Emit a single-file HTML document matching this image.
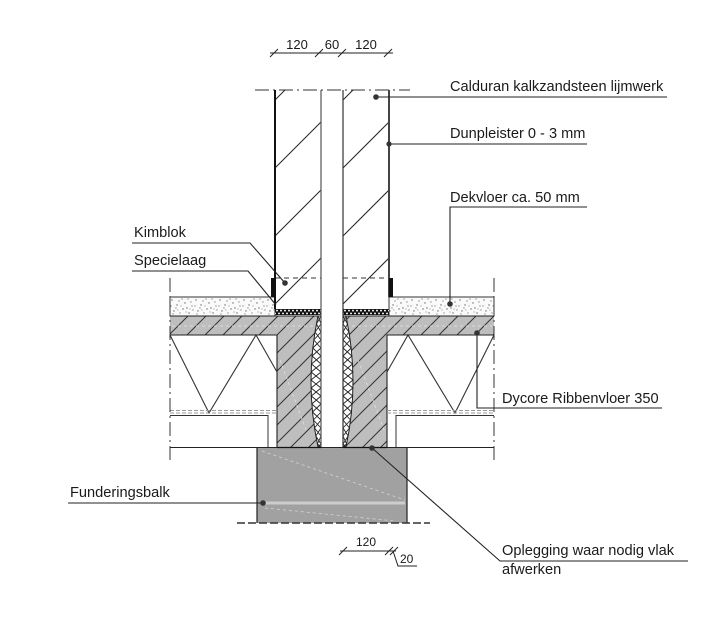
<!DOCTYPE html>
<html>
<head>
<meta charset="utf-8">
<style>
  html,body{margin:0;padding:0;background:#fff;}
  svg{display:block;}
  text{font-family:"Liberation Sans", Arial, sans-serif; fill:#1a1a1a;}
</style>
</head>
<body>
<svg width="725" height="633" viewBox="0 0 725 633" xmlns="http://www.w3.org/2000/svg">
  <defs>
    <pattern id="hatch" patternUnits="userSpaceOnUse" width="18" height="18">
      <rect width="18" height="18" fill="#bebebe"/>
      <path d="M-1,19 L19,-1 M-5,5 L5,-5 M13,23 L23,13" stroke="#333" stroke-width="1"/>
    </pattern>
    <pattern id="speck" patternUnits="userSpaceOnUse" x="170" y="297" width="24" height="19">
      <rect width="24" height="19" fill="#fafafa"/>
      <g fill="#666">
        <circle cx="2" cy="3" r="0.7"/><circle cx="7" cy="8" r="0.7"/><circle cx="12" cy="2" r="0.6"/>
        <circle cx="17" cy="11" r="0.7"/><circle cx="21" cy="5" r="0.6"/><circle cx="4" cy="14" r="0.7"/>
        <circle cx="10" cy="16" r="0.6"/><circle cx="15" cy="6" r="0.7"/><circle cx="19" cy="16" r="0.7"/>
        <circle cx="6" cy="11" r="0.6"/><circle cx="23" cy="13" r="0.6"/><circle cx="13" cy="12" r="0.7"/>
        <circle cx="9" cy="4" r="0.6"/><circle cx="1" cy="9" r="0.6"/><circle cx="18" cy="2" r="0.6"/>
        <circle cx="3" cy="17" r="0.6"/><circle cx="22" cy="9" r="0.6"/><circle cx="11" cy="9" r="0.5"/>
        <circle cx="16" cy="15" r="0.5"/><circle cx="8" cy="13" r="0.5"/><circle cx="20" cy="12" r="0.5"/>
      </g>
    </pattern>
    <pattern id="spec" patternUnits="userSpaceOnUse" x="275" y="309" width="4" height="6">
      <rect width="4" height="6" fill="#111"/>
      <circle cx="2" cy="1.6" r="0.95" fill="#fff"/>
      <circle cx="0" cy="4.4" r="0.95" fill="#fff"/>
      <circle cx="4" cy="4.4" r="0.95" fill="#fff"/>
    </pattern>
  </defs>

  <!-- Top dimension -->
  <g stroke="#222" stroke-width="1">
    <line x1="270" y1="53" x2="393" y2="53"/>
    <line x1="270" y1="57" x2="278" y2="49"/>
    <line x1="315" y1="57" x2="323" y2="49"/>
    <line x1="338" y1="57" x2="346" y2="49"/>
    <line x1="384" y1="57" x2="392" y2="49"/>
  </g>
  <text x="297" y="49" font-size="13" text-anchor="middle">120</text>
  <text x="332" y="49" font-size="13" text-anchor="middle">60</text>
  <text x="366" y="49" font-size="13" text-anchor="middle">120</text>

  <!-- top dash-dot cut line -->
  <line x1="255" y1="90" x2="410" y2="90" stroke="#333" stroke-width="1" stroke-dasharray="14 4 2 4"/>

  <!-- Wall hatch -->
  <g stroke="#222" stroke-width="1">
    <line x1="275" y1="100" x2="285" y2="90"/>
    <line x1="275" y1="168" x2="321" y2="122"/>
    <line x1="275" y1="236" x2="321" y2="190"/>
    <line x1="275" y1="304" x2="321" y2="258"/>
    <line x1="343" y1="100" x2="353" y2="90"/>
    <line x1="343" y1="168" x2="389" y2="122"/>
    <line x1="343" y1="236" x2="389" y2="190"/>
    <line x1="343" y1="304" x2="389" y2="258"/>
  </g>

  <!-- dashed line in walls -->
  <line x1="275" y1="278" x2="321" y2="278" stroke="#333" stroke-width="1" stroke-dasharray="5 4"/>
  <line x1="343" y1="278" x2="389" y2="278" stroke="#333" stroke-width="1" stroke-dasharray="5 4"/>

  <!-- Screed -->
  <rect x="170" y="297" width="105" height="19" fill="url(#speck)" stroke="#333" stroke-width="1"/>
  <rect x="389" y="297" width="105" height="19" fill="url(#speck)" stroke="#333" stroke-width="1"/>

  <!-- Specielaag -->
  <rect x="275" y="309" width="46" height="6" fill="url(#spec)"/>
  <rect x="343" y="309" width="46" height="6" fill="url(#spec)"/>

  <!-- Concrete slab + columns (hatched gray) -->
  <path d="M170,316 L321,316 L321,447 L277,447 L277,335 L170,335 Z" fill="url(#hatch)"/>
  <path d="M343,316 L494,316 L494,335 L387,335 L387,447 L343,447 Z" fill="url(#hatch)"/>
  <g stroke="#e6e6e6" stroke-width="0.7" stroke-dasharray="3 3" fill="none">
    <line x1="172" y1="326" x2="318" y2="326"/>
    <line x1="346" y1="326" x2="492" y2="326"/>
    <line x1="280" y1="360" x2="306" y2="430"/>
    <line x1="358" y1="360" x2="384" y2="430"/>
  </g>

  <!-- insulation lenses -->
  <path d="M318,316 Q304,381.5 318,447 L321,447 L321,316 Z" fill="#fff" stroke="#222" stroke-width="1"/>
  <path d="M346,316 Q360,381.5 346,447 L343,447 L343,316 Z" fill="#fff" stroke="#222" stroke-width="1"/>
  <g stroke="#222" stroke-width="0.9" fill="none" stroke-linejoin="round">
    <polyline points="318,316 321,324 315,332 321,340 312.8,348 321,356 311.5,364 321,372 311,380 321,388 311.3,396 321,404 312.5,412 321,420 314.5,428 321,436 317.4,444 321,447"/>
    <polyline points="321,316 316.4,324 321,332 313.8,340 321,348 312.1,356 321,364 311.1,372 321,380 311.1,388 321,396 311.8,404 321,412 313.4,420 321,428 315.8,436 321,444 318,447"/>
    <polyline points="346,316 343,324 349,332 343,340 351.2,348 343,356 352.5,364 343,372 353,380 343,388 352.7,396 343,404 351.5,412 343,420 349.5,428 343,436 346.6,444 343,447"/>
    <polyline points="343,316 347.6,324 343,332 350.2,340 343,348 351.9,356 343,364 352.9,372 343,380 352.9,388 343,396 352.2,404 343,412 350.6,420 343,428 348.2,436 343,444 346,447"/>
  </g>

  <!-- slab outlines -->
  <g stroke="#222" stroke-width="1.1" fill="none">
    <line x1="170" y1="316" x2="321" y2="316"/>
    <line x1="343" y1="316" x2="494" y2="316"/>
    <polyline points="170,335 277,335 277,447"/>
    <polyline points="494,335 387,335 387,447"/>
  </g>

  <!-- hollow-core V lines -->
  <g stroke="#333" stroke-width="1.1" fill="none">
    <polyline points="170,335 209,413 256,335 277,372"/>
    <polyline points="387,372 408,335 455,413 494,335"/>
  </g>

  <!-- dashed double line -->
  <g stroke="#9a9a9a" stroke-width="0.9" stroke-dasharray="4 2">
    <line x1="170" y1="410.5" x2="277" y2="410.5"/>
    <line x1="170" y1="413" x2="277" y2="413"/>
    <line x1="387" y1="410.5" x2="494" y2="410.5"/>
    <line x1="387" y1="413" x2="494" y2="413"/>
  </g>

  <!-- L lines -->
  <g stroke="#333" stroke-width="1" fill="none">
    <polyline points="170,415.5 268,415.5 268,447"/>
    <polyline points="494,415.5 396,415.5 396,447"/>
  </g>

  <!-- Foundation -->
  <rect x="257" y="447" width="150" height="76" fill="#a1a1a1"/>
  <line x1="262" y1="503" x2="405" y2="503" stroke="#cdcdcd" stroke-width="3"/>
  <line x1="262" y1="451" x2="405" y2="500" stroke="#d2d2d2" stroke-width="0.8" stroke-dasharray="3 3"/>
  <line x1="265" y1="508" x2="395" y2="521" stroke="#d2d2d2" stroke-width="0.8" stroke-dasharray="3 3"/>
  <g stroke="#222" stroke-width="1.2">
    <line x1="257" y1="447" x2="257" y2="523"/>
    <line x1="407" y1="447" x2="407" y2="523"/>
  </g>
  <line x1="237" y1="523" x2="430" y2="523" stroke="#333" stroke-width="1.5" stroke-dasharray="8 3"/>

  <!-- bottom horizontal line -->
  <line x1="170" y1="447.5" x2="494" y2="447.5" stroke="#222" stroke-width="1.1"/>
  <line x1="277" y1="447.5" x2="321" y2="447.5" stroke="#111" stroke-width="1.3"/>
  <line x1="343" y1="447.5" x2="387" y2="447.5" stroke="#111" stroke-width="1.3"/>

  <!-- side dash-dot boundaries -->
  <g stroke="#333" stroke-width="1" stroke-dasharray="14 4 2 4">
    <line x1="170" y1="278" x2="170" y2="462"/>
    <line x1="494" y1="278" x2="494" y2="462"/>
  </g>

  <!-- Wall vertical lines -->
  <line x1="275" y1="90" x2="275" y2="309" stroke="#111" stroke-width="2"/>
  <line x1="321" y1="90" x2="321" y2="447" stroke="#555" stroke-width="1.2"/>
  <line x1="343" y1="90" x2="343" y2="447" stroke="#333" stroke-width="1.2"/>
  <line x1="389" y1="90" x2="389" y2="297" stroke="#444" stroke-width="2"/>

  <!-- Kimbloks -->
  <rect x="271" y="278" width="4" height="19" fill="#111"/>
  <rect x="389" y="278" width="4" height="19" fill="#111"/>

  <!-- Leaders -->
  <g stroke="#222" stroke-width="1.1" fill="none">
    <line x1="376" y1="97" x2="667" y2="97"/>
    <line x1="389" y1="144" x2="587" y2="144"/>
    <polyline points="450,304 450,207 587,207"/>
    <polyline points="477,333 477,408 662,408"/>
    <polyline points="132,243 250,243 285,283"/>
    <polyline points="132,271 248,271 276,305"/>
    <line x1="68" y1="503" x2="263" y2="503"/>
    <polyline points="372,448 500,561 688,561"/>
  </g>
  <g fill="#333">
    <circle cx="376" cy="97" r="2.8"/>
    <circle cx="389" cy="144" r="2.6"/>
    <circle cx="450" cy="304" r="2.8"/>
    <circle cx="477" cy="333" r="2.8"/>
    <circle cx="285" cy="283" r="2.8"/>
    <circle cx="263" cy="503" r="2.8"/>
    <circle cx="372" cy="448" r="2.8"/>
  </g>

  <!-- Labels -->
  <g font-size="14.6">
    <text x="450" y="91">Calduran kalkzandsteen lijmwerk</text>
    <text x="450" y="138">Dunpleister 0 - 3 mm</text>
    <text x="450" y="202">Dekvloer ca. 50 mm</text>
    <text x="502" y="403">Dycore Ribbenvloer 350</text>
    <text x="134" y="237">Kimblok</text>
    <text x="134" y="265">Specielaag</text>
    <text x="70" y="497">Funderingsbalk</text>
    <text x="502" y="555">Oplegging waar nodig vlak</text>
    <text x="502" y="574">afwerken</text>
  </g>

  <!-- Bottom dimension -->
  <g stroke="#222" stroke-width="1" fill="none">
    <line x1="340" y1="551" x2="396" y2="551"/>
    <line x1="339" y1="555" x2="347" y2="547"/>
    <line x1="385" y1="555" x2="393" y2="547"/>
    <line x1="390" y1="555" x2="398" y2="547"/>
    <polyline points="393,551 398,566 417,566"/>
  </g>
  <text x="366" y="546" font-size="12" text-anchor="middle">120</text>
  <text x="400" y="563" font-size="12">20</text>
</svg>
</body>
</html>
